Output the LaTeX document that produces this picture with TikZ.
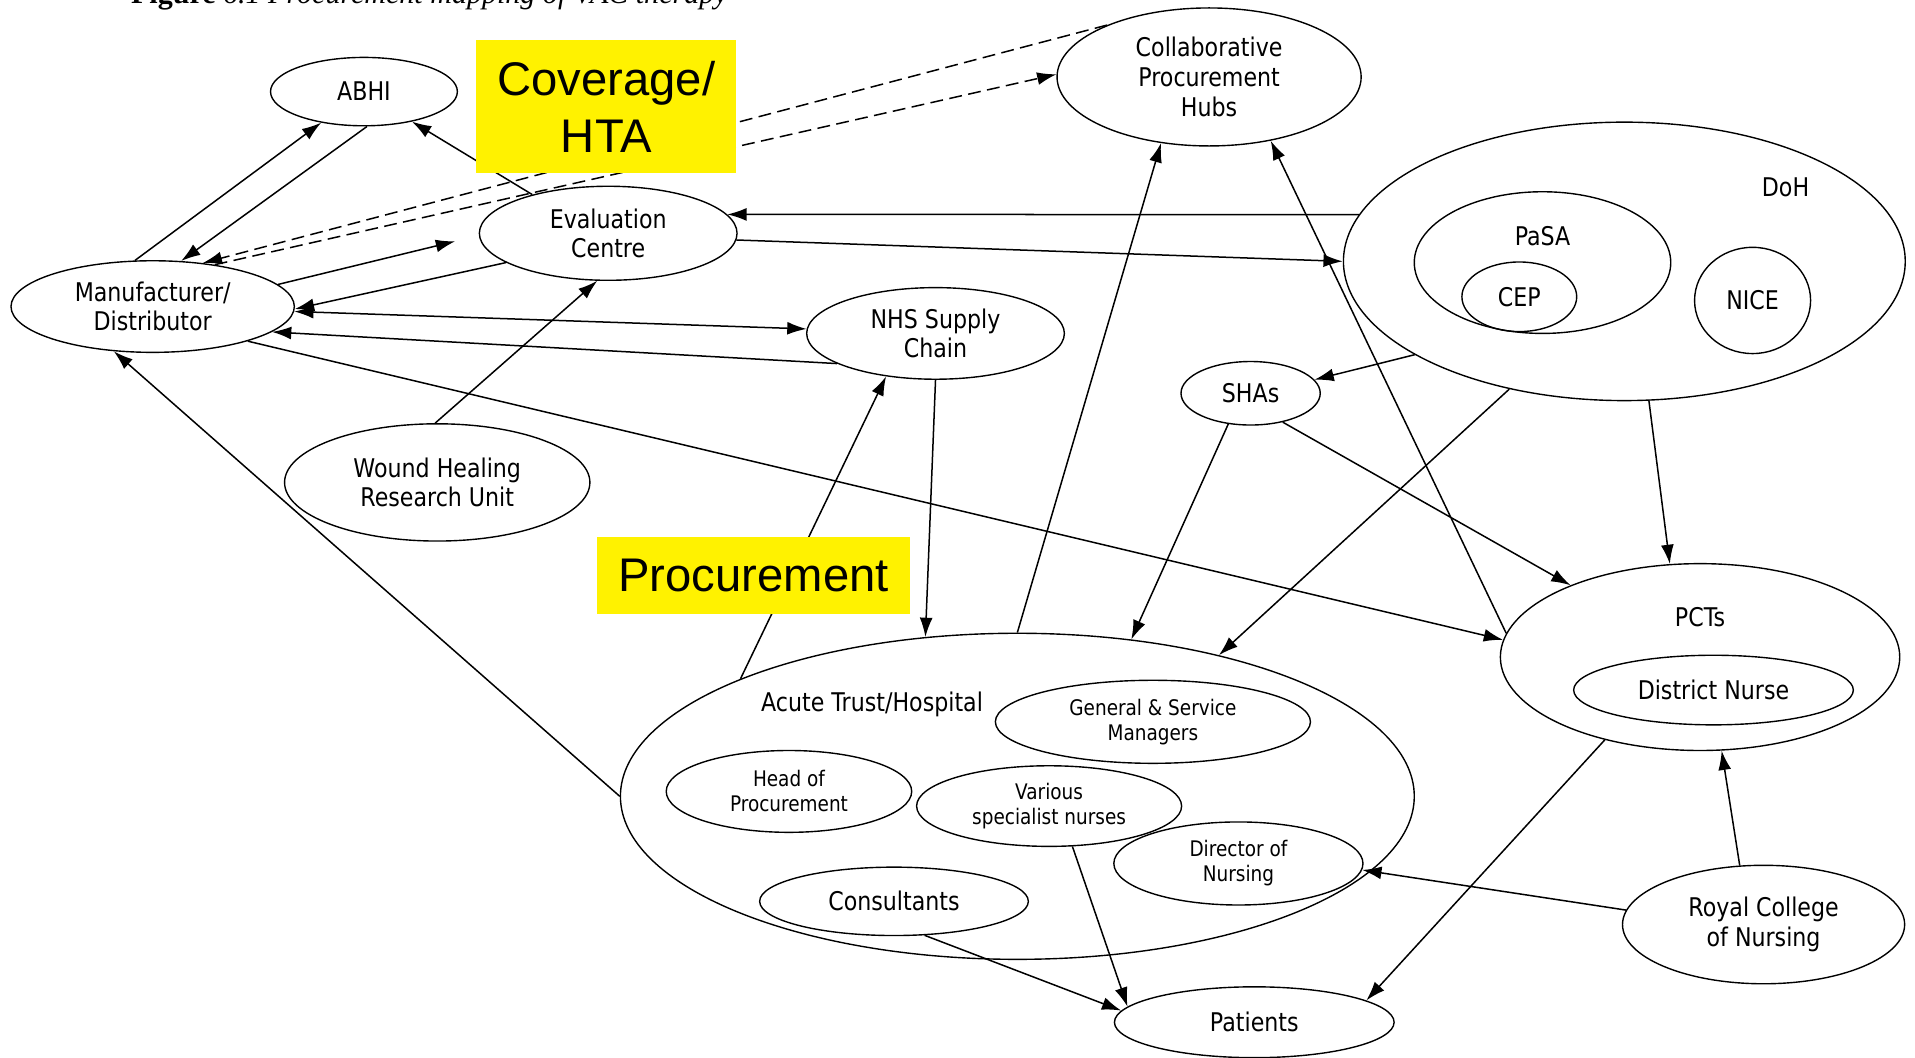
\documentclass[tikz,border=0pt]{standalone}
\usepackage{fontspec}
\setmainfont{DejaVu Sans}[FakeStretch=0.86]
\newfontfamily\boxfont{Liberation Sans}
\newfontfamily\capfont{Liberation Serif}
\usetikzlibrary{shapes.geometric,arrows.meta}

\begin{document}
\begin{tikzpicture}[x=0.02cm, y=-0.02cm,
    blob/.style 2 args={draw, ellipse, inner sep=0pt, line width=0.65pt,
      minimum width=#1*0.02cm, minimum height=#2*0.02cm, align=center,
      font=\fontsize{12}{13.8}\selectfont},
    smalltext/.style={font=\fontsize{10}{11.6}\selectfont},
    tag/.style={inner sep=0pt, font=\fontsize{12}{13.8}\selectfont},
    hilite/.style={fill=yellow, inner sep=0pt, align=center,
      font=\boxfont\fontsize{22}{26.7}\selectfont},
    link/.style={line width=0.7pt, >={Latex[length=9pt,width=6pt]}, ->}]
    \useasboundingbox (0,0) rectangle (1568,866);
    \clip (0,0) rectangle (1568,866);

    \node[anchor=base west, inner sep=0pt, font=\capfont\fontsize{14}{16}\selectfont]
      (title) at (107,3) {\textbf{Figure} \textit{6.1 Procurement mapping of VAC therapy}};

    \node[blob={153}{56}] (abhi) at (298,75) {ABHI};
    \node[blob={249}{113}] (hubs) at (990,63) {Collaborative\\Procurement\\Hubs};
    \node[blob={211}{77}] (eval) at (498,191) {Evaluation\\Centre};
    \node[blob={232}{75}] (manuf) at (125,251) {Manufacturer/\\Distributor};
    \node[blob={211}{75}] (nhs) at (766,273) {NHS Supply\\Chain};
    \node[blob={460}{228}] (doh) at (1330,214) {};
    \node[tag] (dohlbl) at (1462,153) {DoH};
    \node[blob={210}{116}] (pasa) at (1263,215) {};
    \node[tag] (pasalbl) at (1263,193) {PaSA};
    \node[blob={94}{57}] (cep) at (1244,243) {CEP};
    \node[blob={95}{87}] (nice) at (1435,246) {NICE};
    \node[blob={114}{52}] (shas) at (1024,322) {SHAs};
    \node[blob={250}{96}] (whru) at (358,395) {Wound Healing\\Research Unit};

    \node[blob={650}{267}] (acute) at (833,652) {};
    \node[tag] (acutelbl) at (714,577) {Acute Trust/Hospital};
    \node[blob={258}{68}, smalltext] (gsm) at (944,591) {General \& Service\\Managers};
    \node[blob={201}{67}, smalltext] (hop) at (646,648) {Head of\\Procurement};
    \node[blob={217}{66}, smalltext] (vsn) at (859,660) {Various\\specialist nurses};
    \node[blob={204}{68}, smalltext] (don) at (1014,707) {Director of\\Nursing};
    \node[blob={220}{56}] (cons) at (732,738) {Consultants};
    \node[blob={229}{58}] (patients) at (1027,837) {Patients};

    \node[blob={327}{153}] (pcts) at (1392,538) {};
    \node[tag] (pctslbl) at (1392,505) {PCTs};
    \node[blob={229}{57}] (dn) at (1403,565) {District Nurse};
    \node[blob={231}{97}] (rcn) at (1444,757) {Royal College\\of Nursing};

    \foreach \a/\b in {manuf.111/abhi.216, abhi.275/manuf.58, eval.153/abhi.328,
        eval.196/manuf.359, nhs.197/manuf.348, eval.357/doh.180, doh.170/eval.9,
        whru.92/eval.257, manuf.340/pcts.175, acute.180/manuf.229,
        acute.157/nhs.221, nhs.270/acute.120, acute.90/hubs.234, pcts.173/hubs.314,
        doh.204/shas.12, shas.234/acute.54, shas.318/pcts.151, doh.228/acute.35,
        doh.280/pcts.108, pcts.221/patients.11, rcn.112/pcts.283, rcn.174/don.357,
        cons.312/patients.175, vsn.300/patients.173}
      \draw[link] (\a) -- (\b);
    \draw[link, <->] (manuf.358) -- (nhs.178);
    \draw[link, shorten >=0.4cm] (manuf.10) -- (eval.181);
    \draw[link, dash pattern=on 6pt off 3pt] (hubs.153) -- (manuf.41);
    \draw[link, dash pattern=on 6pt off 3pt] (manuf.34) -- (hubs.179);

    \node[hilite, minimum width=213*0.02cm, minimum height=109*0.02cm] (hta) at (496.5,87.5) {Coverage/\\HTA};
    \node[hilite, minimum width=256*0.02cm, minimum height=63*0.02cm] (proc) at (617,471.5) {Procurement};
\end{tikzpicture}
\end{document}
